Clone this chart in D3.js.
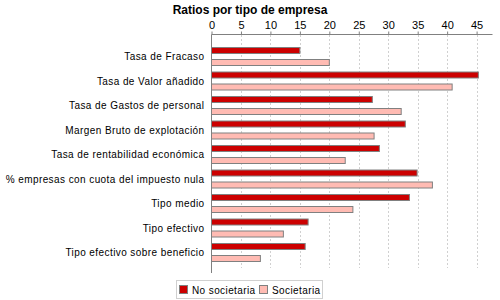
<!DOCTYPE html>
<html>
<head>
<meta charset="utf-8">
<script src="https://cdn.jsdelivr.net/npm/d3@7"></script>
<style>
  body { margin: 0; background: #fff; }
  text { font-family: "Liberation Sans", Arial, sans-serif; }
</style>
</head>
<body>
<svg id="chart"></svg>
<script>
const categories = [
    "Tasa de Fracaso",
    "Tasa de Valor añadido",
    "Tasa de Gastos de personal",
    "Margen Bruto de explotación",
    "Tasa de rentabilidad económica",
    "% empresas con cuota del impuesto nula",
    "Tipo medio",
    "Tipo efectivo",
    "Tipo efectivo sobre beneficio"
];
const series = ["No societaria", "Societaria"];
const noSocietaria = [15.0, 45.3, 27.3, 32.9, 28.5, 34.9, 33.6, 16.4, 15.9];
const societaria = [20.0, 40.85, 32.2, 27.6, 22.7, 37.5, 24.0, 12.2, 8.3];
const xTicks = [0, 5, 10, 15, 20, 25, 30, 35, 40, 45];
const colors = ["#cc0000", "#ffbbb3"];

const data = categories.map((c, i) => ({ name: c, values: [noSocietaria[i], societaria[i]] }));

const svg = d3.select("#chart")
    .attr("width", 500)
    .attr("height", 300);

const x = d3.scaleLinear()
    .domain([0, 47.7])
    .range([211.5, 492.5]);

const y = d3.scaleBand()
    .domain(categories)
    .range([44, 264.5]);

const sub = d3.scaleBand()
    .domain(series)
    .range([0, y.bandwidth()])
    .paddingInner(0.5)
    .paddingOuter(0.25);

svg.append("text")
    .attr("x", 250)
    .attr("y", 14)
    .attr("text-anchor", "middle")
    .style("font-size", "12px")
    .style("font-weight", "bold")
    .text("Ratios por tipo de empresa");

// grid
svg.append("g")
    .selectAll("line")
    .data(xTicks.slice(1))
    .enter()
    .append("line")
    .attr("x1", d => Math.round(x(d)) + 0.5)
    .attr("x2", d => Math.round(x(d)) + 0.5)
    .attr("y1", 35)
    .attr("y2", 268)
    .attr("stroke", "#d0d0d0")
    .attr("stroke-dasharray", "2,2");

// bars
const groups = svg.append("g")
    .selectAll("g")
    .data(data)
    .enter()
    .append("g")
    .attr("transform", d => `translate(0,${y(d.name)})`);

groups.selectAll("rect")
    .data(d => d.values.map((v, i) => ({ key: series[i], value: v, i })))
    .enter()
    .append("rect")
    .attr("x", x(0))
    .attr("y", d => Math.round(sub(d.key)) + 0.5)
    .attr("width", d => x(d.value) - x(0))
    .attr("height", 6)
    .attr("fill", d => colors[d.i])
    .attr("stroke", "#808080")
    .attr("stroke-width", 1);

// x axis on top
const xAxis = svg.append("g")
    .attr("transform", "translate(0,34.5)")
    .call(d3.axisTop(x).tickValues(xTicks).tickSize(3).tickPadding(3));
xAxis.select(".domain").attr("stroke", "#808080").attr("d", `M${x(0)},0H492.5`);
xAxis.selectAll(".tick line").attr("stroke", "#808080");
xAxis.selectAll(".tick text")
    .style("font-size", "11px")
    .attr("fill", "#000");

// y axis
const yAxis = svg.append("g")
    .attr("transform", `translate(${x(0)},0)`)
    .call(d3.axisLeft(y).tickSize(0).tickPadding(7));
yAxis.select(".domain").attr("stroke", "#808080").attr("d", "M0,34.5V273");
yAxis.selectAll(".tick text")
    .attr("dy", "0.42em")
    .style("font-size", "10px")
    .style("letter-spacing", "0.42px")
    .attr("fill", "#000");

// legend
const legend = svg.append("g");
legend.append("rect")
    .attr("x", 176.5)
    .attr("y", 280.5)
    .attr("width", 146)
    .attr("height", 18)
    .attr("fill", "#fff")
    .attr("stroke", "#d0d0d0");

const legendX = [179.5, 259.5];
series.forEach((s, i) => {
    legend.append("rect")
        .attr("x", legendX[i])
        .attr("y", 285.5)
        .attr("width", 8)
        .attr("height", 8)
        .attr("fill", colors[i])
        .attr("stroke", "#808080");
    legend.append("text")
        .attr("x", legendX[i] + 12.5)
        .attr("y", 293.5)
        .style("font-size", "10px")
        .style("letter-spacing", "0.4px")
        .text(s);
});
</script>
</body>
</html>
